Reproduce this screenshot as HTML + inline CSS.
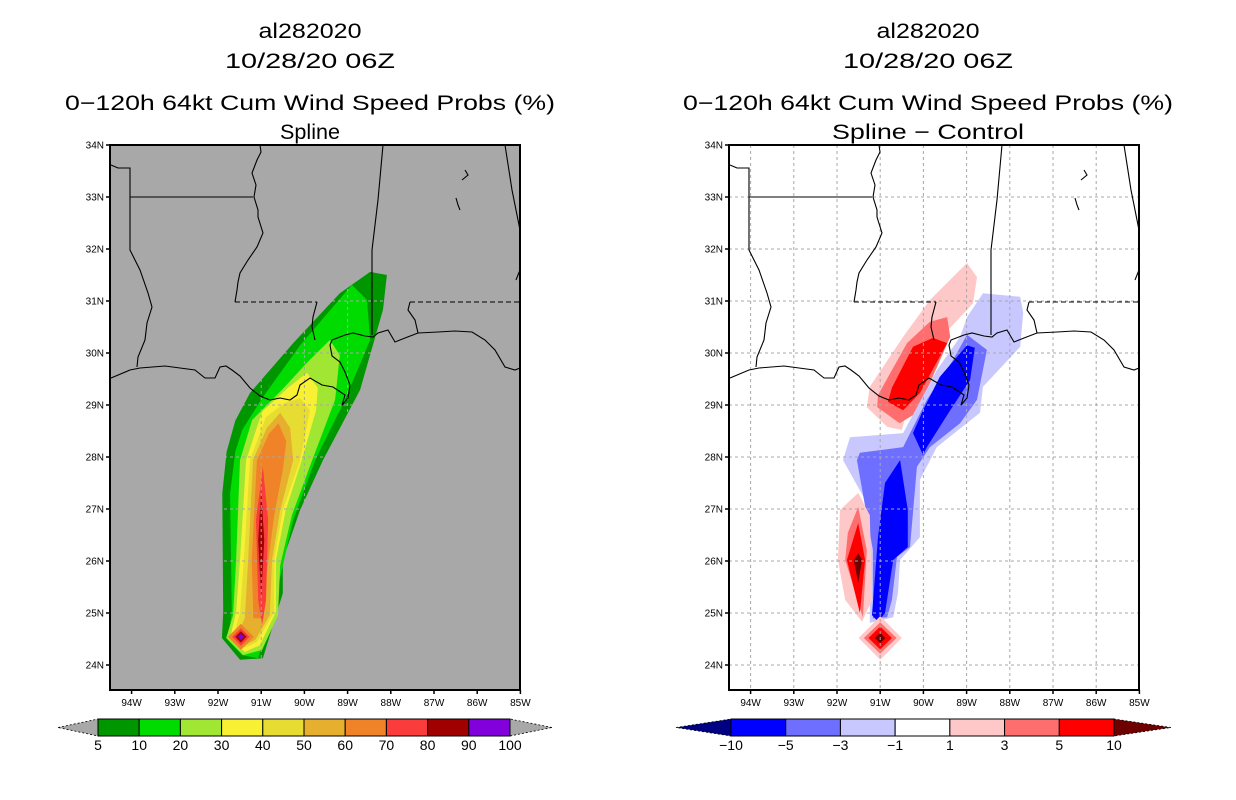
<!DOCTYPE html>
<html><head><meta charset="utf-8"><style>
body{margin:0;background:#fff;}
svg{display:block;font-family:"Liberation Sans",sans-serif;}
</style></head><body>
<svg id="c" width="1236" height="800" viewBox="0 0 1236 800"></svg>
<script>
// ---------- data ----------
const leftLevels = [5,10,20,30,40,50,60,70,80,90,100];
const leftColors = ["#009600","#00dc00","#a0e632","#f8f032","#e6dc32","#e6af2d","#f08228","#fa3c3c","#a00000","#8200dc"];
const rightLevels = [-10,-5,-3,-1,1,3,5,10];
const rightColors = ["#000082","#0000ff","#6e6eff","#c8c8ff","#ffffff","#ffc8c8","#ff6e6e","#ff0000","#6e0000"];
const latTicks = [34,33,32,31,30,29,28,27,26,25,24];
const lonTicks = [94,93,92,91,90,89,88,87,86,85];

const leftP5 = [-88.48,31.56,-88.09,31.5,-88.18,30.83,-88.71,29.29,-89.57,27.94,-90.1,26.98,-90.5,26.02,-90.5,25.38,-90.96,24.13,-91.49,24.1,-91.91,24.52,-91.88,25.0,-91.9,27.3,-91.8,28.1,-91.6,28.7,-91.26,29.23,-90.26,30.19,-89.18,31.15];
const leftP10 = [-88.9,31.31,-88.55,31.02,-88.48,30.25,-89.06,29.1,-89.75,27.94,-90.26,26.79,-90.68,25.25,-91.07,24.13,-91.44,24.19,-91.77,24.48,-91.68,25.02,-91.72,27.3,-91.6,28.1,-91.44,28.52,-90.98,29.13,-90.1,30.15];
const leftP20 = [-89.41,30.25,-89.18,29.96,-89.29,29.1,-89.82,27.94,-90.29,26.88,-90.56,25.92,-90.61,24.96,-90.98,24.29,-91.42,24.19,-91.81,24.52,-91.65,24.96,-91.58,26.02,-91.49,27.94,-91.21,28.71,-90.52,29.29,-89.92,29.83];
const leftP30 = [-89.94,29.62,-89.69,29.33,-89.73,28.9,-90.06,27.94,-90.43,26.98,-90.66,26.02,-90.66,25.02,-91.03,24.38,-91.38,24.25,-91.72,24.52,-91.58,25.02,-91.49,26.02,-91.35,27.94,-90.98,28.87,-90.38,29.33];
const leftP40 = [-90.1,29.13,-89.87,28.9,-90.1,27.94,-90.5,26.98,-90.7,26.02,-90.7,25.02,-91.1,24.44,-91.38,24.33,-91.65,24.52,-91.49,25.0,-91.4,26.02,-91.26,27.94,-90.89,28.77,-90.45,29.04];
const leftP50 = [-90.56,28.85,-90.33,28.56,-90.26,27.94,-90.56,26.98,-90.75,26.02,-90.8,24.96,-91.14,24.48,-91.38,24.38,-91.58,24.52,-91.38,24.9,-91.3,26.02,-91.19,27.94,-90.87,28.56];
const leftP60 = [-90.6,28.65,-90.42,28.3,-90.5,27.75,-90.7,26.88,-90.86,25.83,-90.98,24.9,-91.18,24.9,-91.22,26.02,-91.1,27.94,-90.82,28.45];
const leftP70 = [-90.96,27.81,-90.84,26.79,-90.89,25.25,-90.98,24.77,-91.07,25.25,-91.12,26.79];
const leftP80 = [-91.0,27.37,-90.93,26.4,-91.0,25.29,-91.07,26.4];
const leftD60 = [-91.47,24.79,-91.17,24.54,-91.47,24.29,-91.77,24.54];
const leftD70 = [-91.47,24.71,-91.27,24.54,-91.47,24.37,-91.67,24.54];
const leftD80 = [-91.47,24.65,-91.34,24.54,-91.47,24.43,-91.6,24.54];
const leftD90 = [-91.47,24.6,-91.4,24.54,-91.47,24.48,-91.54,24.54];
const leftShapes = [[0,leftP5],[1,leftP10],[2,leftP20],[3,leftP30],[4,leftP40],[5,leftP50],[6,leftP60],[7,leftP70],[8,leftP80],[6,leftD60],[7,leftD70],[8,leftD80],[9,leftD90]];

const rPink1 = [-88.99,31.73,-88.76,31.46,-88.85,30.96,-89.85,30.06,-90.31,29.1,-90.5,28.52,-90.84,28.58,-91.31,28.96,-91.24,29.35,-90.47,30.31,-89.85,31.02];
const rSalm1 = [-89.45,30.69,-89.38,30.31,-90.15,28.85,-90.55,28.65,-91.07,28.96,-91.05,29.19,-90.38,30.19,-89.85,30.6];
const rRed1 = [-89.78,30.29,-89.45,30.19,-90.08,29.23,-90.47,28.9,-90.82,29.06,-90.73,29.33,-90.24,30.12];
const rLb = [-88.62,31.15,-87.76,31.08,-87.69,30.77,-87.76,30.12,-88.62,29.35,-88.69,28.85,-89.69,28.19,-90.08,27.56,-90.08,26.46,-90.54,26.02,-90.59,25.38,-90.7,24.92,-91.24,24.81,-91.24,25.63,-91.31,27.12,-91.86,27.94,-91.7,28.38,-90.47,28.46,-89.69,29.67,-89.15,30.31,-88.99,30.69];
const rMb = [-88.99,30.35,-88.53,30.06,-88.76,29.1,-89.15,28.65,-89.85,28.19,-90.15,27.81,-90.31,26.27,-90.61,26.08,-90.73,25.25,-90.84,24.92,-91.17,24.9,-91.17,26.21,-91.54,27.94,-91.47,28.08,-90.47,28.19,-89.92,29.1,-89.31,29.87];
const rB1 = [-88.99,30.15,-88.81,30.1,-88.92,29.48,-89.38,28.9,-89.92,28.19,-90.01,28.04,-90.24,28.46,-90.01,28.9,-89.62,29.54];
const rB2 = [-90.54,27.94,-90.36,26.98,-90.36,26.27,-90.7,26.02,-90.89,25.0,-91.05,24.83,-91.19,24.96,-91.05,26.46,-90.89,27.5];
const rPink2 = [-91.51,27.31,-91.24,26.88,-91.19,25.25,-91.42,24.83,-91.81,25.25,-91.98,26.02,-91.93,26.98];
const rSalm2 = [-91.51,27.04,-91.31,26.21,-91.4,24.92,-91.81,26.02,-91.75,26.54];
const rRed2 = [-91.51,26.73,-91.35,26.02,-91.47,25.0,-91.77,26.02];
const rDark2 = [-91.51,26.15,-91.42,26.02,-91.51,25.58,-91.61,26.02];
const rPink3 = [-91.0,24.94,-90.5,24.52,-91.0,24.1,-91.5,24.52];
const rSalm3 = [-91.0,24.82,-90.62,24.52,-91.0,24.22,-91.38,24.52];
const rRed3 = [-91.0,24.74,-90.73,24.52,-91.0,24.3,-91.27,24.52];
const rDark3 = [-91.0,24.62,-90.88,24.52,-91.0,24.42,-91.12,24.52];
const rightShapes = [[5,rPink1],[6,rSalm1],[7,rRed1],[3,rLb],[2,rMb],[1,rB1],[1,rB2],[5,rPink2],[6,rSalm2],[7,rRed2],[8,rDark2],[5,rPink3],[6,rSalm3],[7,rRed3],[8,rDark3]];

// ---------- helpers ----------
const NS="http://www.w3.org/2000/svg";
const svg=document.getElementById('c');
const MAP_Y0=145, MAP_W=410, MAP_H=545, DEG_X=43.2, DEG_Y=52;
function xs(x0,lon){return x0+(lon+94.5)*DEG_X;}
function ys(lat){return MAP_Y0+(34-lat)*DEG_Y;}
function mk(tag,attrs,parent){const e=document.createElementNS(NS,tag);for(const k in attrs)e.setAttribute(k,attrs[k]);(parent||svg).appendChild(e);return e;}
function ptsOf(x0,arr){let s=[];for(let i=0;i<arr.length;i+=2)s.push(xs(x0,arr[i]).toFixed(1)+','+ys(arr[i+1]).toFixed(1));return s.join(' ');}

const outlines=[
 "M111,165 L118,168 L130,168 L130,250 L140,270 L148,293 L152,307 L147,323 L145,340 L138,357 L137,367",
 "M130,197 L253,197",
 "M260,145 L261,152 L257,160 L252,173 L256,185 L254,197 L258,210 L258,217 L263,233 L257,247 L248,260 L240,273 L238,282 L237,290 L235,302",
 "M383,145 L378,200 L372,250 L372,335",
 "M505,145 L512,190 L518,220 L520,230",
 "M317,302 L313,317 L312,327 L315,340",
 "M410,302 L408,310 L415,320 L418,333",
 "M111,378 L130,370 L140,368 L165,366 L195,370 L205,378 L215,378 L220,367 L226,366 L232,370 L240,376 L250,388 L260,396 L270,400 L280,398 L290,400 L297,395 L300,385 L310,378 L322,385 L333,387 L345,395 L342,405 L348,398 L350,385 L345,372 L340,362 L332,356 L330,345 L332,340 L345,335 L353,333 L365,336 L373,337 L378,333 L388,330 L395,342 L405,338 L418,333 L438,332 L455,331 L472,332 L485,340 L495,350 L505,367 L515,370 L520,368",
 "M465,170 L468,175 L462,180",
 "M456,198 L458,205 L460,210",
 "M516,280 L520,270"
];
const dashed=["M235,302 L317,302","M410,302 L520,302"];

function drawPanel(x0, bg, shapes, colors, name){
  const g=mk('g',{});
  
  
  const clipId='clip'+x0;
  const cp=mk('clipPath',{id:clipId},g); mk('rect',{x:x0,y:MAP_Y0,width:MAP_W,height:MAP_H},cp);
  const bgr=mk('rect',{x:x0,y:MAP_Y0,width:MAP_W,height:MAP_H,fill:bg},g);
  
  
  const inner=mk('g',{'clip-path':'url(#'+clipId+')'},g);
  shapes.forEach(s=>{
    const p=mk('polygon',{points:ptsOf(x0,s[1]),fill:colors[s[0]]},inner);
    
    
  });
  lonTicks.forEach(l=>{const x=xs(x0,-l);const ln=mk('line',{x1:x,y1:MAP_Y0,x2:x,y2:MAP_Y0+MAP_H,stroke:'#a8a8a8','stroke-width':1,'stroke-dasharray':'3,3'},inner);
    
    });
  latTicks.forEach(l=>{const y=ys(l);const ln=mk('line',{x1:x0,y1:y,x2:x0+MAP_W,y2:y,stroke:'#a8a8a8','stroke-width':1,'stroke-dasharray':'3,3'},inner);
    
    });
  const og=mk('g',{transform:'translate('+(x0-110)+',0)',fill:'none',stroke:'#000','stroke-width':1.1},inner);
  
  
  outlines.forEach(d=>mk('path',{d:d},og));
  dashed.forEach(d=>mk('path',{d:d,'stroke-dasharray':'5,3'},og));
  const fr=mk('rect',{x:x0,y:MAP_Y0,width:MAP_W,height:MAP_H,fill:'none',stroke:'#000','stroke-width':2},g);
  
  
  latTicks.forEach(l=>{const y=ys(l);
    mk('line',{x1:x0-4,y1:y,x2:x0,y2:y,stroke:'#000','stroke-width':1.5},g);
    const t=mk('text',{x:x0-6,y:y+3.5,'font-size':10,'text-anchor':'end',fill:'#000'},g);t.textContent=l+'N';
    
    });
  lonTicks.forEach(l=>{const x=xs(x0,-l);
    mk('line',{x1:x,y1:MAP_Y0+MAP_H,x2:x,y2:MAP_Y0+MAP_H+4,stroke:'#000','stroke-width':1.5},g);
    const t=mk('text',{x:x,y:706,'font-size':10,'text-anchor':'middle',fill:'#000'},g);t.textContent=l+'W';
    
    });
}

function title(cx,lines,widths){
  const ys_=[38,68,110,139];
  lines.forEach((s,i)=>{const t=mk('text',{x:cx,y:ys_[i],'font-size':21,'text-anchor':'middle',fill:'#000'});
    t.setAttribute('textLength',widths[i]);t.setAttribute('lengthAdjust','spacingAndGlyphs');
    t.textContent=s;
    
    });
}

function colorbar(x0,x1,tl,tr,colors,labels,name,outerL,outerR){
  const g=mk('g',{});
  
  
  const n=colors.length, w=(x1-x0)/n, y0=719, y1=736, ym=(y0+y1)/2;
  mk('polygon',{points:`${tl},${ym} ${x0},${y0} ${x0},${y1}`,fill:outerL,stroke:'#000','stroke-width':0.8,'stroke-dasharray':'2,2'},g);
  mk('polygon',{points:`${tr},${ym} ${x1},${y0} ${x1},${y1}`,fill:outerR,stroke:'#000','stroke-width':0.8,'stroke-dasharray':'2,2'},g);
  colors.forEach((c,i)=>{const r=mk('rect',{x:x0+i*w,y:y0,width:w,height:y1-y0,fill:c,stroke:'#000','stroke-width':1},g);
    
    });
  labels.forEach((l,i)=>{const t=mk('text',{x:x0+i*w,y:750,'font-size':14,'text-anchor':'middle',fill:'#000'},g);t.textContent=String(l).replace('-','\u2212');
    
    });
}

drawPanel(110,'#a8a8a8',leftShapes,leftColors,'left-map-spline');
drawPanel(729,'#ffffff',rightShapes,rightColors,'right-map-difference');
title(310,['al282020','10/28/20 06Z','0\u2212120h 64kt Cum Wind Speed Probs (%)','Spline'],[103,170,490,60]);
title(928,['al282020','10/28/20 06Z','0\u2212120h 64kt Cum Wind Speed Probs (%)','Spline \u2212 Control'],[103,170,490,192]);
colorbar(98,510,58,552,leftColors,leftLevels,'left-colorbar','#a8a8a8','#a8a8a8');
colorbar(731,1114,676,1171,rightColors.slice(1,8),rightLevels,'right-colorbar',rightColors[0],rightColors[8]);
</script>
</body></html>
